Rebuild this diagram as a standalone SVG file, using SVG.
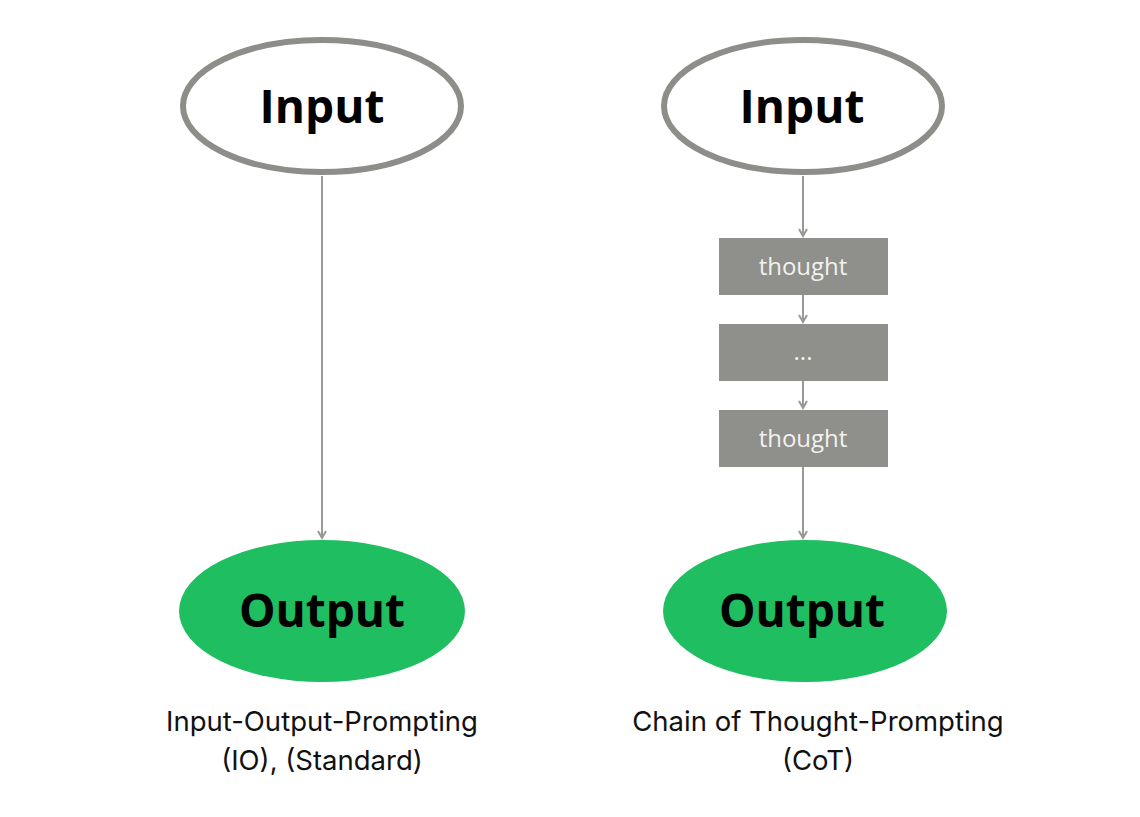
<svg xmlns="http://www.w3.org/2000/svg" width="1140" height="817" viewBox="0 0 1140 817">
<style>
.in{fill:#fff;stroke:#8d8d89;stroke-width:6}
.out{fill:#1fbe60}
.big{font-family:"Open Sans",sans-serif;font-weight:700;font-size:46px;fill:#000;text-anchor:middle}
.box{fill:#8f8f8b}
.bt{font-family:"Open Sans",sans-serif;font-size:24px;fill:#f2f2ee;text-anchor:middle}
.cap{font-family:Inter,"Liberation Sans",sans-serif;font-size:27.5px;fill:#111;text-anchor:middle}
.ln{stroke:#999996;stroke-width:2;fill:none;marker-end:url(#ah)}
</style>
<defs>
<marker id="ah" markerWidth="10" markerHeight="10" refX="8" refY="5" orient="auto" markerUnits="userSpaceOnUse">
<path d="M1,1 L8,5 L1,9" fill="none" stroke="#999996" stroke-width="2"/>
</marker>
</defs>
<rect width="1140" height="817" fill="#fff"/>
<g id="connectors">
<line class="ln" x1="322" y1="176" x2="322" y2="538"/>
<line class="ln" x1="803" y1="176" x2="803" y2="236"/>
<line class="ln" x1="803" y1="295" x2="803" y2="322"/>
<line class="ln" x1="803" y1="381" x2="803" y2="408"/>
<line class="ln" x1="803" y1="467" x2="803" y2="538"/>
</g>
<g id="io-input"><ellipse class="in" cx="322" cy="106" rx="139" ry="66"/><text class="big" x="322" y="123">Input</text></g>
<g id="io-output"><ellipse class="out" cx="322" cy="611" rx="143" ry="71"/><text class="big" x="322" y="627">Output</text></g>
<g id="cot-input"><ellipse class="in" cx="803" cy="106" rx="139" ry="66"/><text class="big" x="802" y="123">Input</text></g>
<g id="thought1"><rect class="box" x="719" y="238" width="169" height="57"/><text class="bt" x="803" y="275">thought</text></g>
<g id="thought-dots"><rect class="box" x="719" y="324" width="169" height="57"/><text class="bt" x="803" y="360">...</text></g>
<g id="thought2"><rect class="box" x="719" y="410" width="169" height="57"/><text class="bt" x="803" y="447">thought</text></g>
<g id="cot-output"><ellipse class="out" cx="805" cy="611" rx="142" ry="71"/><text class="big" x="802" y="627">Output</text></g>
<g id="io-caption"><text class="cap" x="322" y="731">Input-Output-Prompting</text><text class="cap" x="322" y="770">(IO), (Standard)</text></g>
<g id="cot-caption"><text class="cap" x="818" y="731">Chain of Thought-Prompting</text><text class="cap" x="818" y="770">(CoT)</text></g>
</svg>
